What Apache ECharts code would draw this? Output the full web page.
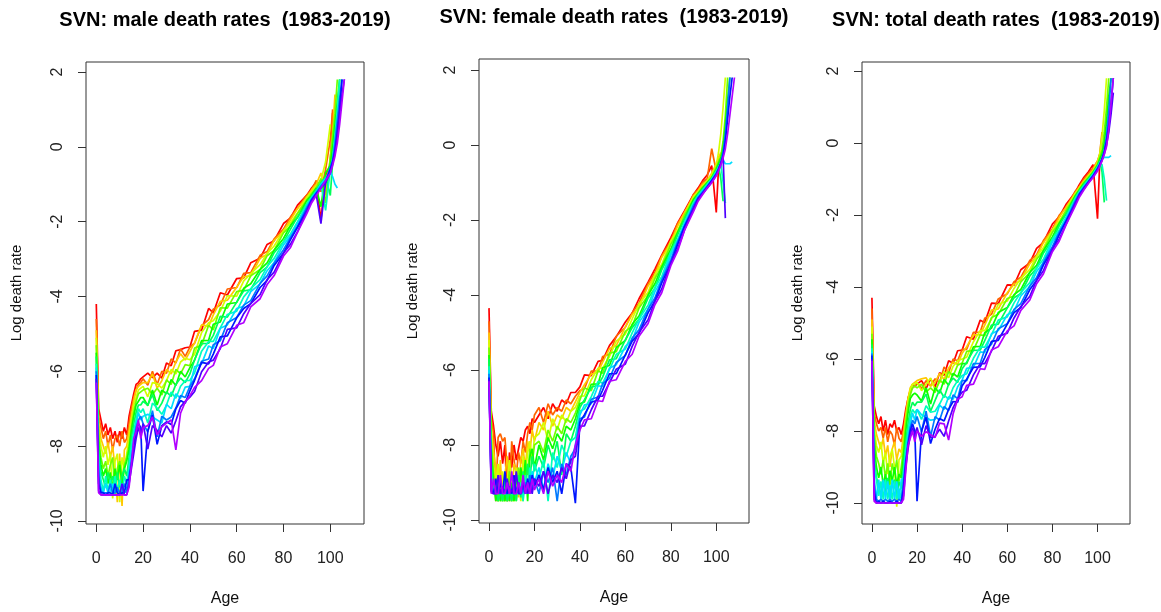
<!DOCTYPE html>
<html><head><meta charset="utf-8">
<script src="https://cdn.jsdelivr.net/npm/echarts@6/dist/echarts.min.js"></script>
<style>html,body{margin:0;padding:0;background:#fff}#c{width:1161px;height:612px}</style>
</head><body><div id="c"></div>
<script>
const _ = null;
const ages = [0,1,2,3,4,5,6,7,8,9,10,11,12,13,14,15,16,17,18,19,20,22,24,26,28,30,32,34,36,38,40,42,45,48,50,53,56,60,63,66,70,73,76,80,83,86,90,92,94,96,98,100,101,102,103,104,105,106,107,108];
const years = [1983,1986,1989,1992,1995,1998,2001,2004,2007,2010,2013,2016,2019];
const xTicks = [0,20,40,60,80,100];
const yTicks = [-10,-8,-6,-4,-2,0,2];

// ---- male log death rates ----
const m1983 = [-4.2,-7.0,-7.3,-7.6,-7.4,-7.7,-7.5,-7.8,-7.6,-7.9,-7.6,-7.8,-7.5,-7.7,-7.2,-6.9,-6.6,-6.35,-6.3,-6.2,-6.15,
 -6.05,-6.17,-6.05,-6.18,-5.78,-5.85,-5.45,-5.42,-5.37,-5.35,
 -4.93,-4.9,-4.32,-4.44,-3.9,-3.96,-3.52,-3.5,-3.1,-2.98,-2.61,-2.51,-2.05,-1.9,-1.56,-1.29,
 -1.1,-0.95,-1.95,-0.75,-0.5,0.9,_,_,_,_,_,_,_];
const m1986 = [-4.6,-7.2,-7.5,-7.8,-7.6,-8.0,-7.7,-8.1,-7.8,-7.7,-8.0,-7.6,-7.9,-7.8,-7.4,-7.0,-6.7,-6.5,-6.35,-6.3,-6.2,
 -6.37,-6.0,-6.35,-6.0,-6.05,-5.67,-5.78,-5.4,-5.6,-5.35,
 -5.25,-4.78,-4.62,-4.34,-4.23,-3.8,-3.76,-3.38,-3.36,-2.9,-2.8,-2.46,-2.2,-1.87,-1.64,-1.28,
 -1.15,-0.9,-1.2,-0.6,0.2,1.0,_,_,_,_,_,_,_];
const m1989 = [-4.9,-7.4,-7.8,-8.0,-8.2,-7.9,-8.3,-8.0,-8.6,-9.5,-8.2,-9.6,-8.1,-8.0,-7.6,-7.2,-6.8,-6.5,-6.4,-6.35,-6.3,
 -6.3,-6.07,-6.45,-6.25,-5.95,-6.07,-5.75,-5.53,-5.7,-5.47,
 -5.24,-4.76,-4.8,-4.49,-4.13,-4.1,-3.75,-3.47,-3.45,-2.98,-2.87,-2.5,-2.26,-1.95,-1.65,-1.35,
 -1.15,-1.0,-0.7,-1.3,-0.3,0.4,1.4,_,_,_,_,_,_];
const m1992 = [-5.1,-7.6,-8.0,-8.3,-8.0,-8.5,-8.2,-9.4,-8.4,-8.2,-9.5,-8.3,-8.6,-8.2,-7.8,-7.3,-6.9,-6.7,-6.5,-6.45,-6.4,
 -6.68,-6.3,-6.33,-6.45,-6.25,-5.95,-6.07,-5.75,-5.65,-5.69,
 -5.54,-4.96,-4.7,-4.65,-4.39,-3.98,-3.99,-3.58,-3.39,-3.15,-2.85,-2.65,-2.24,-2.03,-1.77,-1.34,
 -1.2,-1.05,-0.9,-0.4,0.6,_,_,_,_,_,_,_,_];
const m1995 = [-5.3,-7.8,-8.3,-8.6,-8.4,-8.8,-8.5,-8.3,-9.3,-8.6,-8.4,-8.9,-8.5,-8.3,-8.0,-7.5,-7.1,-6.8,-6.6,-6.55,-6.5,
 -6.45,-6.62,-6.45,-6.63,-6.23,-6.35,-5.95,-6.07,-5.82,-5.85,
 -5.38,-5.3,-4.77,-4.89,-4.3,-4.31,-3.87,-3.83,-3.45,-3.28,-2.91,-2.77,-2.3,-2.11,-1.78,-1.42,
 -1.25,-1.1,-0.85,-1.5,-0.3,0.3,0.9,1.8,_,_,_,_,_];
const m1998 = [-5.5,-8.0,-8.5,-8.8,-8.6,-9.0,-8.7,-9.2,-8.6,-8.9,-8.5,-9.0,-8.6,-8.4,-8.1,-7.6,-7.2,-6.9,-6.8,-6.7,-6.7,
 -6.92,-6.5,-6.9,-6.5,-6.6,-6.22,-6.38,-6.0,-6.15,-5.9,
 -5.7,-5.18,-5.17,-4.74,-4.68,-4.2,-4.16,-3.78,-3.66,-3.28,-3.1,-2.76,-2.45,-2.1,-1.89,-1.43,
 -1.3,-1.1,-1.6,-0.7,-0.5,0.0,0.6,1.2,1.8,_,_,_,_];
const m2001 = [-5.6,-8.2,-8.7,-8.9,-9.1,-8.7,-9.0,-8.8,-9.2,-8.7,-9.1,-8.8,-8.6,-8.8,-8.3,-7.8,-7.4,-7.1,-6.9,-6.9,-6.8,
 -6.9,-6.62,-7.05,-6.85,-6.55,-6.67,-6.35,-6.18,-6.3,-6.07,
 -5.69,-5.26,-5.25,-5.04,-4.53,-4.55,-4.15,-3.85,-3.82,-3.36,-3.21,-2.83,-2.54,-2.2,-1.87,-1.52,
 -1.32,-1.15,-0.95,-0.8,-1.3,-0.4,0.2,0.9,1.8,_,_,_,_];
const m2004 = [-5.8,-8.4,-8.9,-9.2,-8.8,-9.2,-8.9,-9.3,-8.8,-9.2,-8.9,-9.3,-8.8,-9.0,-8.5,-8.0,-7.6,-7.3,-7.0,-7.1,-7.0,
 -7.38,-6.85,-6.98,-7.15,-6.9,-6.55,-6.72,-6.4,-6.25,-6.24,
 -6.04,-5.46,-5.2,-5.2,-4.84,-4.48,-4.39,-4.01,-3.79,-3.55,-3.2,-2.98,-2.54,-2.33,-2.0,-1.53,
 -1.35,-1.2,-1.0,-1.7,-0.6,-0.3,0.3,1.0,1.8,_,_,_,_];
const m2007 = [-5.9,-8.6,-9.1,-9.25,-9.0,-9.25,-9.2,-9.0,-9.25,-9.2,-9.25,-9.0,-9.2,-9.25,-8.7,-8.2,-7.8,-7.4,-7.1,-7.3,-7.2,
 -7.15,-7.22,-7.3,-7.38,-6.88,-7.0,-6.6,-6.72,-6.42,-6.4,
 -5.88,-5.8,-5.32,-5.39,-4.85,-4.76,-4.32,-4.26,-3.87,-3.66,-3.31,-3.09,-2.62,-2.38,-2.03,-1.6,
 -1.38,-1.2,-1.0,-0.85,-0.65,-0.8,-1.0,-1.1,_,_,_,_,_];
const m2010 = [-6.0,-8.8,-9.2,-9.25,-9.25,-9.25,-9.0,-9.25,-9.25,-9.1,-9.25,-9.25,-9.0,-9.2,-8.8,-8.4,-7.9,-7.5,-7.3,-7.2,-7.4,
 -7.62,-7.05,-7.75,-7.2,-7.3,-7.22,-6.98,-6.65,-6.7,-6.4,
 -6.2,-5.73,-5.67,-5.29,-5.18,-4.7,-4.56,-4.23,-4.11,-3.65,-3.45,-3.11,-2.75,-2.42,-2.12,-1.61,
 -1.4,-1.22,-1.05,-0.9,-0.55,-0.35,0.1,0.7,1.3,1.8,_,_,_];
const m2013 = [-6.1,-9.0,-9.25,-9.25,-9.3,-9.25,-9.25,-9.3,-9.0,-9.25,-9.3,-9.25,-9.25,-8.9,-8.9,-8.5,-8.0,-7.6,-7.4,-7.5,-9.2,
 -7.6,-7.17,-7.95,-7.45,-7.35,-7.42,-7.0,-6.78,-6.85,-6.52,
 -6.24,-5.76,-5.8,-5.54,-5.08,-5.05,-4.57,-4.32,-4.19,-3.76,-3.57,-3.17,-2.84,-2.48,-2.15,-1.69,
 -1.42,-1.25,-1.1,-0.95,-0.6,-0.4,-0.1,0.4,1.0,1.8,_,_,_];
const m2016 = [-6.2,-9.2,-9.3,-9.3,-9.3,-9.3,-9.3,-9.3,-9.3,-9.3,-9.3,-9.0,-9.3,-9.3,-9.0,-8.6,-8.2,-7.8,-7.5,-7.7,-7.4,
 -8.08,-7.45,-7.58,-7.75,-7.45,-7.65,-7.32,-6.95,-6.8,-6.69,
 -6.54,-6.01,-5.75,-5.7,-5.39,-4.88,-4.84,-4.46,-4.19,-3.95,-3.55,-3.35,-2.84,-2.6,-2.27,-1.7,
 -1.45,-1.28,-2.05,-0.95,-0.7,-0.45,-0.15,0.3,0.9,1.4,1.8,_,_];
const m2019 = [-6.3,-9.25,-9.3,-9.3,-9.3,-9.3,-9.3,-9.3,-9.3,-9.3,-9.3,-9.3,-9.3,-9.3,-9.1,-8.5,-7.8,-7.6,-7.3,-7.8,-7.5,
 -7.45,-7.22,-7.7,-7.48,-7.38,-7.3,-8.1,-7.12,-6.82,-6.65,
 -6.43,-6.25,-5.92,-5.84,-5.35,-5.26,-4.77,-4.7,-4.28,-4.06,-3.68,-3.44,-2.92,-2.69,-2.28,-1.78,
 -1.5,-1.3,-1.1,-0.9,-0.7,-0.5,-0.25,0.1,0.6,1.2,1.8,_,_];

// ---- female log death rates ----
const f1983 = [-4.35,-7.1,-7.5,-8.0,-8.3,-7.9,-8.5,-8.0,-9.5,-8.2,-8.6,-8.0,-8.4,-8.1,-7.8,-7.9,-7.6,-7.5,-7.7,-7.3,-7.4,
 -7.2,-7.0,-7.3,-6.9,-7.1,-6.8,-6.9,-6.6,-6.6,-6.45,
 -6.13,-6.15,-5.77,-5.74,-5.35,-5.11,-4.72,-4.48,-4.1,-3.66,-3.31,-2.94,-2.47,-2.08,-1.76,-1.32,
 -1.15,-0.95,-0.8,-0.55,-1.8,-0.6,_,_,_,_,_,_,_];
const f1986 = [-4.7,-7.3,-7.7,-9.5,-7.8,-7.7,-7.9,-7.8,-8.6,-9.5,-7.9,-8.4,-8.8,-8.2,-8.5,-7.9,-8.2,-7.7,-7.4,-7.6,-7.2,
 -7.0,-7.4,-6.9,-7.2,-7.0,-7.1,-6.8,-6.9,-6.7,-6.55,
 -6.5,-6.03,-6.02,-5.64,-5.58,-5.1,-4.86,-4.48,-4.21,-3.7,-3.4,-2.96,-2.55,-2.09,-1.82,-1.31,
 -1.2,-1.0,-0.9,-0.1,-0.7,-0.3,_,_,_,_,_,_,_];
const f1989 = [-5.0,-7.5,-8.2,-8.6,-9.5,-8.4,-9.5,-8.8,-8.3,-8.9,-9.5,-8.5,-8.7,-9.4,-8.4,-8.1,-8.6,-7.9,-8.2,-7.6,-7.9,
 -7.4,-7.6,-7.1,-7.5,-7.2,-7.3,-7.0,-7.1,-6.85,-6.6,
 -6.39,-6.11,-6.05,-5.79,-5.43,-5.35,-4.85,-4.52,-4.32,-3.76,-3.49,-3.0,-2.61,-2.16,-1.8,-1.38,
 -1.22,-1.05,-0.95,-0.75,-0.5,-0.35,-0.2,_,_,_,_,_,_];
const f1992 = [-5.2,-7.7,-8.5,-9.0,-8.5,-9.5,-8.7,-9.5,-8.9,-8.4,-9.1,-9.5,-8.6,-8.9,-9.5,-8.3,-8.8,-8.2,-7.9,-8.4,-7.8,
 -7.7,-7.4,-7.9,-7.3,-7.6,-7.2,-7.4,-7.1,-7.0,-6.7,
 -6.69,-6.26,-5.95,-5.95,-5.64,-5.23,-5.04,-4.64,-4.24,-3.93,-3.45,-3.18,-2.56,-2.28,-1.88,-1.37,
 -1.25,-1.1,-0.95,-0.8,-0.55,-0.2,0.3,1.0,1.8,_,_,_,_];
const f1995 = [-5.4,-7.9,-8.8,-9.2,-9.5,-8.8,-9.5,-9.1,-9.5,-8.7,-9.5,-8.9,-9.5,-8.6,-9.0,-9.5,-8.5,-8.8,-8.1,-8.5,-8.0,
 -7.9,-8.2,-7.6,-7.9,-7.5,-7.7,-7.3,-7.4,-7.15,-6.8,
 -6.48,-6.55,-6.02,-6.09,-5.55,-5.51,-4.97,-4.83,-4.35,-4.01,-3.56,-3.24,-2.65,-2.33,-1.88,-1.45,
 -1.28,-1.12,-1.0,-0.85,-0.6,-0.45,-0.3,0.1,0.8,1.8,_,_,_];
const f1998 = [-5.6,-8.2,-9.0,-9.5,-9.0,-9.5,-9.2,-9.5,-8.9,-9.5,-9.0,-9.5,-8.8,-9.3,-8.6,-9.0,-8.4,-9.5,-8.3,-8.1,-8.6,
 -8.0,-8.4,-7.8,-8.1,-7.7,-7.9,-7.5,-7.6,-7.3,-6.9,
 -6.85,-6.38,-6.37,-5.94,-5.88,-5.4,-5.21,-4.78,-4.56,-4.0,-3.7,-3.26,-2.78,-2.33,-1.97,-1.45,
 -1.3,-1.15,-1.0,-0.88,-0.65,-0.5,-0.35,-0.1,0.5,1.2,1.8,_,_];
const f2001 = [-5.7,-8.5,-9.25,-9.0,-9.5,-9.25,-9.5,-8.9,-9.5,-9.2,-9.5,-9.0,-9.5,-8.8,-9.4,-8.7,-9.3,-8.5,-8.9,-8.3,-8.7,
 -8.3,-8.6,-8.0,-8.4,-7.9,-8.8,-7.7,-7.9,-7.5,-7.0,
 -6.79,-6.46,-6.4,-6.19,-5.73,-5.7,-5.2,-4.87,-4.65,-4.08,-3.82,-3.33,-2.86,-2.4,-1.97,-1.53,
 -1.32,-1.18,-1.05,-0.9,-0.7,-0.55,-0.9,-1.5,_,_,_,_,_];
const f2004 = [-5.9,-8.8,-9.25,-9.25,-9.2,-9.3,-9.25,-9.3,-9.2,-9.25,-9.2,-9.3,-9.25,-9.3,-9.0,-9.5,-8.8,-9.2,-8.6,-9.0,-8.5,
 -8.9,-8.4,-9.5,-8.2,-8.6,-8.0,-8.3,-7.9,-7.8,-7.1,
 -7.04,-6.71,-6.3,-6.35,-5.99,-5.58,-5.44,-5.01,-4.64,-4.27,-3.8,-3.51,-2.85,-2.52,-2.07,-1.53,
 -1.35,-1.2,-1.05,-0.9,-0.7,-0.6,-0.5,-1.0,-1.55,_,_,_,_];
const f2007 = [-6.0,-9.0,-9.3,-9.25,-9.25,-9.2,-9.25,-9.3,-9.25,-9.2,-9.3,-9.25,-9.2,-9.3,-9.25,-9.2,-9.3,-8.9,-9.2,-8.7,-9.0,
 -8.6,-9.2,-8.5,-8.9,-8.3,-8.7,-8.2,-8.5,-8.0,-7.2,
 -6.93,-6.9,-6.42,-6.44,-5.95,-5.86,-5.37,-5.2,-4.73,-4.38,-3.91,-3.59,-2.93,-2.58,-2.08,-1.61,
 -1.38,-1.22,-1.08,-0.92,-0.75,-0.6,-0.5,-0.4,-0.5,-0.5,-0.5,-0.45,_];
const f2010 = [-6.1,-9.1,-9.25,-9.3,-9.25,-9.3,-9.25,-9.25,-9.3,-9.25,-9.25,-9.3,-9.25,-9.25,-9.3,-9.25,-9.0,-9.3,-8.8,-9.2,-8.9,
 -9.3,-8.7,-9.0,-8.6,-9.5,-8.5,-8.8,-8.3,-8.1,-7.3,
 -7.25,-6.78,-6.72,-6.36,-6.23,-5.8,-5.61,-5.15,-4.93,-4.37,-4.08,-3.6,-3.06,-2.58,-2.17,-1.61,
 -1.4,-1.25,-1.1,-0.95,-0.75,-0.62,-0.45,-0.2,0.3,1.0,1.8,_,_];
const f2013 = [-6.2,-9.2,-9.3,-8.9,-9.3,-9.0,-9.3,-8.7,-9.3,-9.1,-9.3,-8.8,-9.3,-9.0,-9.3,-9.0,-9.3,-8.9,-9.3,-8.8,-9.1,
 -8.8,-9.2,-8.6,-9.0,-8.7,-9.3,-8.5,-8.6,-9.55,-7.4,
 -7.19,-6.86,-6.8,-6.54,-6.1,-6.1,-5.6,-5.23,-5.03,-4.47,-4.16,-3.68,-3.15,-2.65,-2.17,-1.69,
 -1.42,-1.28,-1.12,-0.95,-0.78,-0.65,-0.5,-0.3,0.1,0.7,1.3,1.8,_];
const f2016 = [-6.25,-9.25,-9.3,-9.3,-8.8,-9.3,-9.1,-9.3,-8.9,-9.3,-9.2,-9.3,-8.7,-9.3,-9.3,-9.0,-9.1,-9.3,-9.0,-9.3,-8.9,
 -9.1,-8.7,-9.3,-8.8,-9.0,-8.6,-8.9,-8.4,-8.3,-7.5,
 -7.49,-7.06,-6.7,-6.7,-6.34,-5.98,-5.84,-5.37,-5.0,-4.66,-4.16,-3.84,-3.14,-2.77,-2.27,-1.69,
 -1.45,-1.3,-1.15,-1.0,-0.8,-0.65,-0.5,-0.3,-1.95,_,_,_,_];
const f2019 = [-6.3,-9.3,-8.9,-9.3,-9.3,-8.8,-9.3,-9.3,-9.0,-9.3,-8.7,-9.3,-9.3,-9.0,-9.3,-8.8,-9.3,-9.0,-9.3,-8.9,-9.2,
 -8.9,-9.3,-8.7,-9.1,-8.8,-9.0,-8.5,-8.7,-8.0,-7.6,
 -7.33,-7.3,-6.82,-6.84,-6.3,-6.26,-5.77,-5.58,-5.1,-4.76,-4.26,-3.94,-3.22,-2.83,-2.28,-1.77,
 -1.5,-1.32,-1.15,-1.0,-0.82,-0.7,-0.55,-0.35,-0.1,0.3,0.8,1.3,1.8];

// ---- total log death rates ----
const t1983 = [-4.3,-7.3,-7.6,-7.8,-7.6,-8.0,-7.7,-8.1,-7.8,-7.9,-7.7,-8.0,-7.9,-8.1,-7.8,-7.4,-7.1,-6.9,-6.8,-6.75,-6.7,
 -6.6,-6.82,-6.55,-6.78,-6.38,-6.45,-6.05,-6.12,-5.77,-5.75,
 -5.38,-5.45,-4.92,-4.99,-4.45,-4.46,-3.94,-3.95,-3.52,-3.33,-2.93,-2.76,-2.25,-2.05,-1.71,-1.38,
 -1.15,-0.95,-0.8,-0.6,-2.1,-0.5,_,_,_,_,_,_,_];
const t1986 = [-4.6,-7.5,-7.8,-8.0,-7.9,-8.2,-7.9,-8.3,-8.0,-8.1,-8.4,-7.9,-8.2,-8.3,-8.0,-7.5,-7.1,-6.85,-6.7,-6.75,-6.65,
 -6.82,-6.6,-6.75,-6.55,-6.65,-6.22,-6.38,-6.0,-6.05,-5.73,
 -5.73,-5.26,-5.25,-4.87,-4.76,-4.33,-4.19,-3.85,-3.73,-3.26,-3.11,-2.71,-2.38,-2.01,-1.8,-1.35,
 -1.2,-1.0,-0.85,-0.7,-0.5,-0.3,0.3,_,_,_,_,_,_];
const t1989 = [-4.9,-7.7,-8.1,-8.3,-8.5,-8.2,-8.7,-8.4,-9.0,-8.5,-8.3,-8.8,-8.5,-8.6,-8.1,-7.6,-7.1,-6.8,-6.7,-6.65,-6.6,
 -6.55,-6.52,-6.75,-6.65,-6.4,-6.57,-6.25,-6.08,-6.15,-5.84,
 -5.66,-5.33,-5.32,-5.06,-4.64,-4.61,-4.16,-3.92,-3.81,-3.35,-3.16,-2.77,-2.44,-2.07,-1.79,-1.42,
 -1.22,-1.05,-0.9,-0.75,-0.5,-0.35,-0.2,_,_,_,_,_,_];
const t1992 = [-5.1,-7.9,-8.4,-8.6,-8.3,-8.9,-8.6,-9.2,-8.7,-8.5,-9.0,-10.1,-8.8,-8.7,-8.3,-7.7,-7.2,-6.85,-6.7,-6.7,-6.65,
 -6.88,-6.7,-6.53,-6.85,-6.65,-6.35,-6.52,-6.2,-6.05,-6.0,
 -5.95,-5.52,-5.21,-5.21,-4.89,-4.48,-4.39,-4.04,-3.76,-3.51,-3.14,-2.91,-2.41,-2.17,-1.88,-1.41,
 -1.25,-1.08,-0.92,-0.78,-0.55,-0.3,0.2,0.9,1.8,_,_,_,_];
const t1995 = [-5.3,-8.1,-8.7,-8.9,-9.2,-8.8,-9.3,-8.9,-9.5,-8.9,-9.2,-8.8,-9.4,-9.0,-8.5,-7.8,-7.3,-7.0,-6.8,-6.75,-6.8,
 -6.7,-6.92,-6.8,-6.93,-6.58,-6.7,-6.35,-6.47,-6.17,-6.11,
 -5.79,-5.76,-5.33,-5.35,-4.85,-4.76,-4.32,-4.25,-3.86,-3.6,-3.23,-2.99,-2.48,-2.23,-1.88,-1.48,
 -1.28,-1.1,-0.95,-0.8,-0.6,-0.4,-0.2,0.3,1.0,1.8,_,_,_];
const t1998 = [-5.45,-8.4,-9.0,-9.3,-9.0,-9.5,-9.2,-9.6,-9.1,-9.4,-9.0,-9.5,-9.2,-9.3,-8.7,-8.0,-7.5,-7.1,-7.0,-6.95,-7.0,
 -7.17,-6.8,-7.25,-6.8,-6.95,-6.57,-6.73,-6.4,-6.5,-6.13,
 -6.13,-5.66,-5.65,-5.27,-5.14,-4.71,-4.57,-4.21,-4.07,-3.59,-3.4,-2.99,-2.61,-2.23,-1.97,-1.48,
 -1.3,-1.12,-0.98,-0.82,-0.62,-0.45,-0.3,0.0,0.6,1.3,1.8,_,_];
const t2001 = [-5.6,-8.7,-9.3,-9.5,-9.8,-9.4,-9.7,-9.3,-9.8,-9.5,-9.35,-9.8,-9.4,-9.6,-9.0,-8.3,-7.8,-7.4,-7.2,-7.3,-7.2,
 -7.2,-6.97,-7.45,-7.15,-6.85,-7.07,-6.7,-6.53,-6.65,-6.27,
 -6.09,-5.76,-5.75,-5.49,-5.06,-5.03,-4.58,-4.3,-4.18,-3.69,-3.48,-3.06,-2.69,-2.3,-1.97,-1.55,
 -1.32,-1.15,-1.0,-0.85,-0.65,-0.5,-0.8,-1.65,_,_,_,_,_];
const t2004 = [-5.7,-9.0,-9.35,-9.8,-9.4,-9.9,-9.35,-9.9,-9.5,-9.9,-9.4,-9.9,-9.6,-9.9,-9.2,-8.5,-8.0,-7.6,-7.4,-7.5,-7.4,
 -7.68,-7.3,-7.48,-7.45,-7.25,-7.0,-7.12,-6.8,-6.6,-6.46,
 -6.41,-5.98,-5.67,-5.67,-5.33,-4.92,-4.83,-4.44,-4.15,-3.88,-3.47,-3.23,-2.67,-2.42,-2.07,-1.55,
 -1.35,-1.18,-1.02,-0.86,-0.66,-0.55,-0.6,-1.0,-1.6,_,_,_,_];
const t2007 = [-5.8,-9.3,-9.9,-9.35,-9.9,-9.35,-9.9,-9.4,-9.9,-9.35,-9.9,-9.4,-9.9,-9.35,-9.3,-8.7,-8.2,-7.8,-7.5,-7.7,-7.4,
 -7.55,-7.62,-7.7,-7.68,-7.28,-7.4,-7.05,-7.12,-6.77,-6.58,
 -6.26,-6.23,-5.8,-5.82,-5.3,-5.21,-4.77,-4.67,-4.25,-3.98,-3.57,-3.32,-2.75,-2.48,-2.08,-1.63,
 -1.38,-1.2,-1.05,-0.88,-0.7,-0.55,-0.45,-0.4,-0.4,-0.4,-0.35,_,_];
const t2010 = [-5.85,-9.5,-9.9,-9.95,-9.9,-9.95,-9.9,-9.95,-9.9,-9.95,-9.9,-9.95,-9.9,-9.95,-9.4,-8.8,-8.3,-7.9,-7.7,-7.8,-7.6,
 -8.02,-7.45,-8.15,-7.6,-7.7,-7.32,-7.43,-7.0,-7.1,-6.6,
 -6.6,-6.13,-6.12,-5.74,-5.59,-5.16,-5.02,-4.62,-4.46,-3.97,-3.74,-3.32,-2.88,-2.48,-2.17,-1.62,
 -1.4,-1.22,-1.06,-0.9,-0.7,-0.58,-0.42,-0.2,0.2,0.9,1.8,_,_];
const t2013 = [-5.9,-9.7,-10.0,-9.95,-10.0,-9.95,-10.0,-10.0,-9.95,-10.0,-10.0,-9.95,-10.0,-10.0,-9.6,-8.9,-8.4,-8.0,-7.8,-8.0,-9.95,
 -8.0,-7.62,-8.35,-7.95,-7.65,-7.72,-7.4,-7.18,-7.2,-6.74,
 -6.56,-6.23,-6.22,-5.96,-5.51,-5.48,-5.03,-4.71,-4.57,-4.07,-3.82,-3.39,-2.96,-2.55,-2.17,-1.7,
 -1.42,-1.25,-1.08,-0.92,-0.72,-0.6,-0.45,-0.25,0.05,0.5,1.1,1.8,_];
const t2016 = [-6.0,-9.9,-10.0,-10.0,-10.0,-10.0,-10.0,-10.0,-10.0,-10.0,-10.0,-10.0,-10.0,-10.0,-9.8,-9.0,-8.5,-8.1,-7.9,-8.1,-7.9,
 -8.38,-7.85,-8.18,-8.15,-7.95,-8.15,-7.72,-7.35,-7.1,-6.92,
 -6.87,-6.44,-6.13,-6.13,-5.78,-5.37,-5.28,-4.86,-4.54,-4.26,-3.81,-3.55,-2.94,-2.67,-2.27,-1.69,
 -1.45,-1.28,-1.1,-0.95,-0.75,-0.62,-0.48,-0.3,-0.05,0.3,0.8,1.4,_];
const t2019 = [-6.05,-9.95,-10.0,-10.0,-10.0,-10.0,-10.0,-10.0,-10.0,-10.0,-10.0,-10.0,-10.0,-10.0,-9.9,-9.1,-8.4,-8.2,-8.0,-8.3,-8.0,
 -8.15,-8.02,-8.1,-8.18,-7.78,-7.8,-8.25,-7.52,-7.12,-7.05,
 -6.73,-6.7,-6.27,-6.29,-5.75,-5.66,-5.22,-5.08,-4.65,-4.36,-3.91,-3.64,-3.02,-2.73,-2.28,-1.77,
 -1.5,-1.3,-1.12,-0.96,-0.78,-0.65,-0.5,-0.32,-0.1,0.4,1.1,1.8,_];

const maleSeries   = [m1983,m1986,m1989,m1992,m1995,m1998,m2001,m2004,m2007,m2010,m2013,m2016,m2019];
const femaleSeries = [f1983,f1986,f1989,f1992,f1995,f1998,f2001,f2004,f2007,f2010,f2013,f2016,f2019];
const totalSeries  = [t1983,t1986,t1989,t1992,t1995,t1998,t2001,t2004,t2007,t2010,t2013,t2016,t2019];

const titles = ['SVN: male death rates  (1983-2019)','SVN: female death rates  (1983-2019)','SVN: total death rates  (1983-2019)'];

// layout (pixels) and axis extents
const panels = [
  {left:86,  top:62, width:278, height:462, ymin:-10.08,  ymax:2.267, titleX:225, titleY:10, nameGap:62, data:maleSeries},
  {left:479, top:59, width:270, height:464, ymin:-10.08,  ymax:2.293, titleX:614, titleY:7,  nameGap:59, data:femaleSeries},
  {left:862, top:62, width:268, height:462, ymin:-10.583, ymax:2.25,  titleX:996, titleY:10, nameGap:57, data:totalSeries}
];

function rainbow(i, n) { // R rainbow(n) colour i
  const h = i / n * 6, c = 1, x = 1 - Math.abs(h % 2 - 1);
  let r=0,g=0,b=0;
  if (h < 1) {r=c; g=x;} else if (h < 2) {r=x; g=c;} else if (h < 3) {g=c; b=x;}
  else if (h < 4) {g=x; b=c;} else if (h < 5) {r=x; b=c;} else {r=c; b=x;}
  const hx = v => Math.round(v*255).toString(16).padStart(2,'0');
  return '#' + hx(r) + hx(g) + hx(b);
}

const FONT = 'Liberation Sans, Arial, Helvetica, sans-serif';
const option = {
  backgroundColor: '#fff', animation: false,
  title: panels.map((p, i) => ({
    text: titles[i], left: p.titleX, top: p.titleY, textAlign: 'center', padding: 0,
    textStyle: {fontFamily: FONT, fontSize: 20, fontWeight: 'bold', color: '#000'}
  })),
  grid: panels.map(p => ({left: p.left, top: p.top, width: p.width, height: p.height,
    show: true, borderColor: '#333', borderWidth: 1, backgroundColor: 'transparent',
    containLabel: false, outerBoundsMode: 'none'})),
  xAxis: panels.map((p, i) => ({
    type: 'value', gridIndex: i, min: -4.4, max: 114.4,
    name: 'Age', nameLocation: 'middle', nameGap: 67, nameMoveOverlap: false,
    nameTextStyle: {fontFamily: FONT, fontSize: 16, color: '#111'},
    axisLine: {show: false, onZero: false}, splitLine: {show: false},
    axisTick: {show: true, length: 8, customValues: xTicks, lineStyle: {color: '#333', width: 1}},
    axisLabel: {customValues: xTicks, margin: 27, fontFamily: FONT, fontSize: 16, color: '#222'}
  })),
  yAxis: panels.map((p, i) => ({
    type: 'value', gridIndex: i, min: p.ymin, max: p.ymax,
    name: 'Log death rate', nameLocation: 'middle', nameGap: p.nameGap, nameMoveOverlap: false,
    nameTextStyle: {fontFamily: FONT, fontSize: 15, color: '#111'},
    axisLine: {show: false, onZero: false}, splitLine: {show: false},
    axisTick: {show: true, length: 8, customValues: yTicks, lineStyle: {color: '#333', width: 1}},
    axisLabel: {customValues: yTicks, rotate: 90, margin: 20, fontFamily: FONT, fontSize: 16, color: '#222'}
  })),
  series: []
};
panels.forEach((p, pi) => {
  p.data.forEach((vals, k) => {
    const idx = years[k] - 1983;
    option.series.push({
      type: 'line', xAxisIndex: pi, yAxisIndex: pi, name: String(years[k]),
      data: ages.map((a, j) => [a, vals[j]]),
      showSymbol: false, symbol: 'none', connectNulls: false, silent: true,
      lineStyle: {width: 1.7, color: rainbow(idx, 46)}, z: 2 + k
    });
  });
});
const chart = echarts.init(document.getElementById('c'), null, {renderer: 'canvas'});
chart.setOption(option);
const bad = [];
[maleSeries, femaleSeries, totalSeries].forEach((s, pi) => s.forEach((v, k) => { if (v.length !== ages.length) bad.push(pi + ':' + years[k] + '=' + v.length); }));
if (bad.length) throw new Error('length mismatch ' + bad.join(' '));
</script></body></html>
